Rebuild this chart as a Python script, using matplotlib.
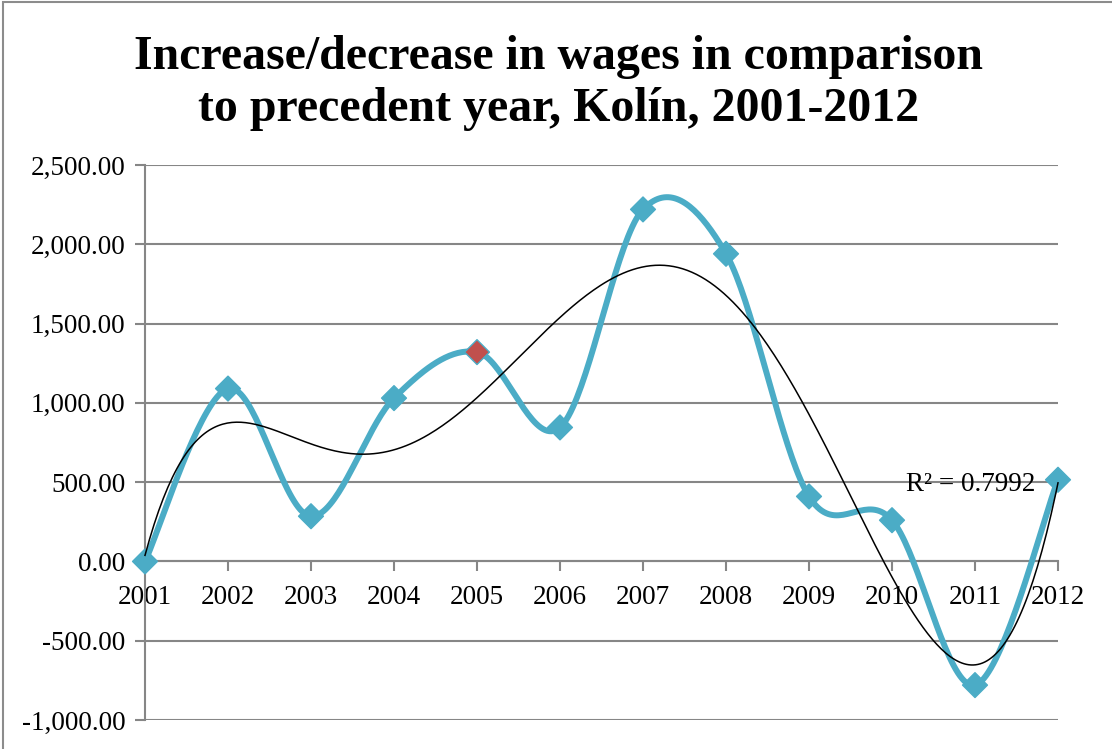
import numpy as np
import matplotlib as mpl
mpl.use("Agg")
import matplotlib.pyplot as plt
from matplotlib.ticker import FuncFormatter, MultipleLocator
from matplotlib.patches import Rectangle

YEARS = ["2001", "2002", "2003", "2004", "2005", "2006",
         "2007", "2008", "2009", "2010", "2011", "2012"]
WAGE_CHANGE = [0, 1090, 285, 1030, 1320, 845, 2220, 1940, 410, 260, -780, 515]
HIGHLIGHT_YEAR = "2005"
TREND_ORDER = 6
R2_LABEL = "R² = 0.7992"
TITLE = "Increase/decrease in wages in comparison\nto precedent year, Kolín, 2001-2012"

LINE_COLOR = "#4BACC6"
HIGHLIGHT_COLOR = "#C0504D"
GRID_COLOR = "#868686"


def smooth_curve(xs, ys, steps=40):
    """Cubic Bezier through every point, tangents from the neighbours."""
    pts = np.column_stack([xs, ys])
    n = len(pts)
    out = [pts[0]]
    t = np.linspace(0, 1, steps)[1:, None]
    for i in range(n - 1):
        p0 = pts[max(i - 1, 0)]
        p1 = pts[i]
        p2 = pts[i + 1]
        p3 = pts[min(i + 2, n - 1)]
        c1 = p1 + (p2 - p0) / 6.0
        c2 = p2 - (p3 - p1) / 6.0
        seg = ((1 - t) ** 3 * p1 + 3 * (1 - t) ** 2 * t * c1
               + 3 * (1 - t) * t ** 2 * c2 + t ** 3 * p2)
        out.extend(seg)
    out = np.array(out)
    return out[:, 0], out[:, 1]


plt.rcParams["font.family"] = ["Liberation Serif", "DejaVu Serif"]

x = np.arange(len(YEARS), dtype=float)
y = np.array(WAGE_CHANGE, dtype=float)

fig = plt.figure(figsize=(11.12, 7.49), dpi=100, facecolor="white")

# chart frame
fig.patches.append(Rectangle(
    (3 / 1112, -0.1), 1.2, 1.1 - 2.5 / 749,
    transform=fig.transFigure, fill=False,
    edgecolor="#8C8C8C", linewidth=1.5,
))

fig.text(0.502, 0.889, TITLE, ha="center", va="center",
         fontsize=34.5, fontweight="bold", linespacing=1.24)

ax = fig.add_axes([145 / 1112, 1 - 720 / 749, (1058 - 145) / 1112,
                   (720 - 165) / 749])
ax.set_xlim(0, len(YEARS) - 1)
ax.set_ylim(-1000, 2500)

ax.yaxis.set_major_locator(MultipleLocator(500))
ax.yaxis.set_major_formatter(FuncFormatter(lambda v, _: f"{v:,.2f}"))
ax.grid(axis="y", color=GRID_COLOR, linewidth=1.5)
ax.set_axisbelow(True)

for side in ("top", "right"):
    ax.spines[side].set_visible(False)
ax.spines["left"].set_color(GRID_COLOR)
ax.spines["left"].set_linewidth(1.5)
ax.spines["bottom"].set_color(GRID_COLOR)
ax.spines["bottom"].set_linewidth(1.5)
ax.spines["bottom"].set_position(("data", 0))

ax.set_xticks(x)
ax.set_xticklabels(YEARS)
ax.tick_params(axis="both", colors=GRID_COLOR, labelcolor="black",
               labelsize=19.5, length=7, width=1.5, direction="out")
ax.tick_params(axis="x", pad=10)
ax.tick_params(axis="y", pad=7)
for lbl in ax.get_xticklabels():
    lbl.set_zorder(6)

sx, sy = smooth_curve(x, y)
ax.plot(sx, sy, color=LINE_COLOR, linewidth=4.3, solid_capstyle="round",
        zorder=3, clip_on=False)

colors = [HIGHLIGHT_COLOR if yr == HIGHLIGHT_YEAR else LINE_COLOR for yr in YEARS]
ax.scatter(x, y, marker="D", s=160, c=colors, edgecolors=LINE_COLOR,
           linewidths=1.0, zorder=4, clip_on=False)

coef = np.polyfit(x + 1, y, TREND_ORDER)
tx = np.linspace(0, len(YEARS) - 1, 400)
ax.plot(tx, np.polyval(coef, tx + 1), color="black", linewidth=1.1,
        zorder=5, clip_on=False)

ax.text(9.17, 485, R2_LABEL, fontsize=19.5, ha="left", va="center", zorder=6)

fig.savefig("out.png", dpi=100, facecolor="white")
